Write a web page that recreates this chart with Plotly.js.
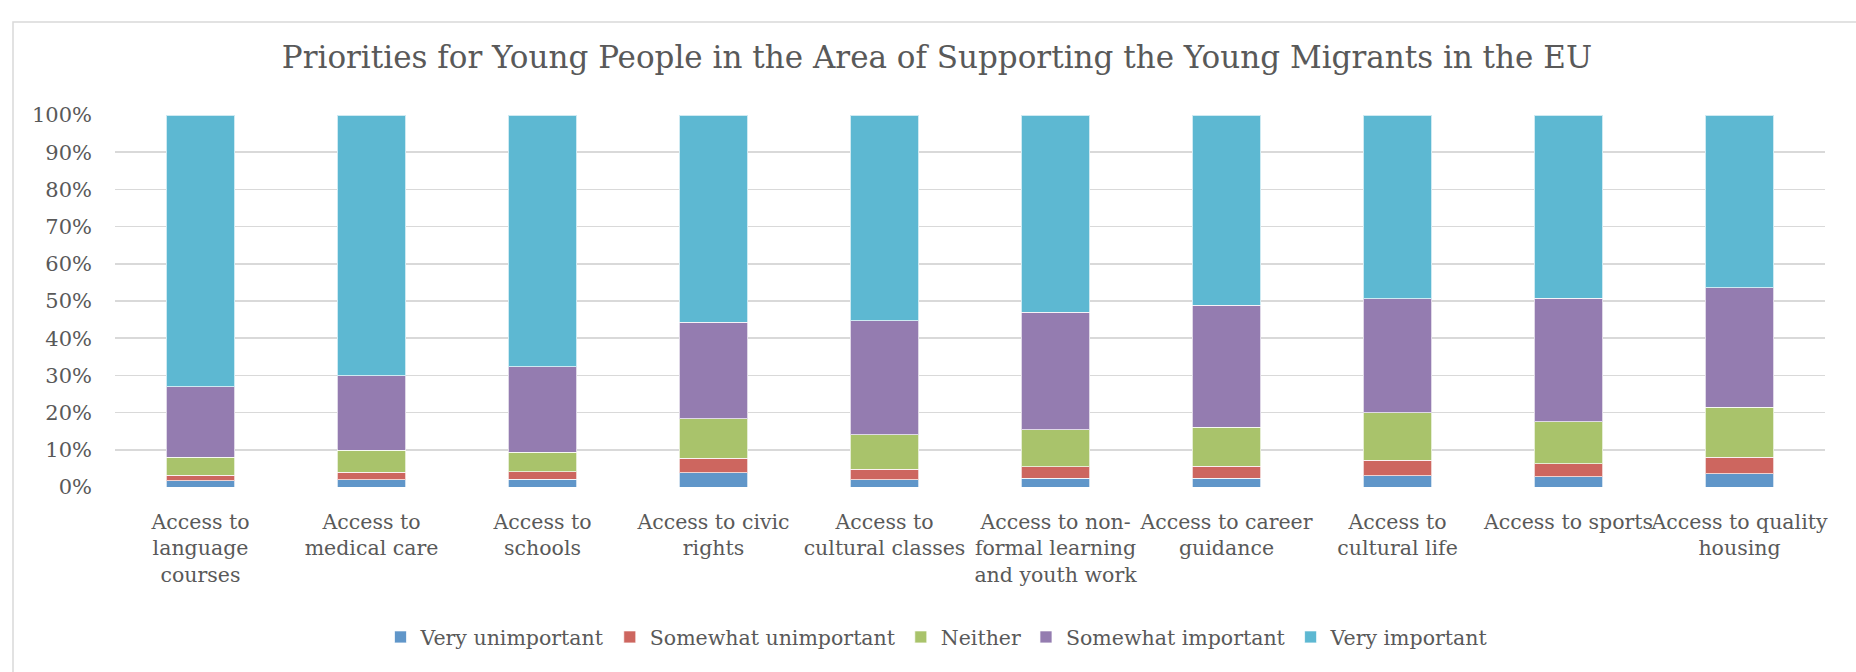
<!DOCTYPE html>
<html>
<head>
<meta charset="utf-8">
<script src="https://cdn.plot.ly/plotly-3.0.1.min.js"></script>
<style>
  html, body { margin: 0; padding: 0; background: #ffffff; }
  #chart { width: 1856px; height: 672px; }
</style>
</head>
<body>
<div id="chart"></div>
<script>
// Categories (tick labels, with line breaks as in the reference)
const categories = [
  "Access to<br>language<br>courses",
  "Access to<br>medical care",
  "Access to<br>schools",
  "Access to civic<br>rights",
  "Access to<br>cultural classes",
  "Access to non-<br>formal learning<br>and youth work",
  "Access to career<br>guidance",
  "Access to<br>cultural life",
  "Access to sports",
  "Access to quality<br>housing"
];

// Series values (percent of respondents, stacked to 100%)
const veryUnimportant     = [1.7, 2.0, 2.1, 3.8, 1.9, 2.4, 2.4, 3.0, 2.8, 3.6];
const somewhatUnimportant = [1.5, 1.9, 2.0, 3.9, 2.9, 3.0, 3.2, 4.2, 3.5, 4.4];
const neither             = [4.8, 6.0, 5.3, 10.6, 9.3, 10.0, 10.5, 12.7, 11.2, 13.4];
const somewhatImportant   = [18.9, 20.0, 22.9, 26.0, 30.6, 31.6, 32.7, 30.7, 33.3, 32.1];
const veryImportant       = [73.1, 70.1, 67.7, 55.7, 55.3, 53.0, 51.2, 49.4, 49.2, 46.5];

const seriesNames  = ["Very unimportant", "Somewhat unimportant", "Neither", "Somewhat important", "Very important"];
const seriesValues = [veryUnimportant, somewhatUnimportant, neither, somewhatImportant, veryImportant];
const seriesColors = ["#6096C9", "#CD665F", "#A9C36B", "#947CB0", "#5DB8D2"];

const yTickVals = [0, 10, 20, 30, 40, 50, 60, 70, 80, 90, 100];
const yTickText = ["0%", "10%", "20%", "30%", "40%", "50%", "60%", "70%", "80%", "90%", "100%"];

const fontFamily = "'DejaVu Serif', 'Liberation Serif', serif";
const textColor = "#595959";

const traces = seriesNames.map((name, i) => ({
  type: "bar",
  name: name,
  x: categories,
  y: seriesValues[i],
  marker: { color: seriesColors[i], line: { color: "rgba(255,255,255,0.7)", width: 1 } },
  hoverinfo: "x+y+name"
}));

const layout = {
  width: 1856,
  height: 672,
  paper_bgcolor: "#ffffff",
  plot_bgcolor: "#ffffff",
  barmode: "stack",
  bargap: 0.6,
  margin: { l: 115, r: 31, t: 115, b: 184.5, pad: 0 },
  title: {
    text: "Priorities for Young People in the Area of Supporting the Young Migrants in the EU",
    font: { family: fontFamily, size: 31, color: textColor },
    x: 0.5048, xref: "container", xanchor: "center",
    y: 0.915, yref: "container", yanchor: "middle"
  },
  xaxis: {
    type: "category",
    showgrid: false,
    showline: false,
    zeroline: false,
    ticks: "",
    ticklabelstandoff: 20,
    tickfont: { family: fontFamily, size: 20.5, color: textColor },
    tickangle: 0,
    automargin: false
  },
  yaxis: {
    range: [0, 100],
    tickvals: yTickVals,
    ticktext: yTickText,
    showgrid: true,
    gridcolor: "#d9d9d9",
    gridwidth: 1.5,
    zeroline: false,
    showline: false,
    ticks: "",
    ticklabelstandoff: 22,
    tickfont: { family: fontFamily, size: 21, color: textColor },
    automargin: false,
    fixedrange: true
  },
  legend: {
    orientation: "h",
    x: 0.4807, xanchor: "center",
    y: -0.4035, yanchor: "middle",
    font: { family: fontFamily, size: 20.5, color: textColor },
    itemwidth: 30,
    traceorder: "normal",
    bgcolor: "rgba(0,0,0,0)"
  },
  shapes: [{
    type: "rect", xref: "paper", yref: "paper",
    x0: -0.05965, x1: 1.02164, y0: -0.5436, y1: 1.2497,
    line: { color: "#d9d9d9", width: 1.5 },
    fillcolor: "rgba(0,0,0,0)",
    layer: "below"
  }],
  showlegend: true
};

Plotly.newPlot("chart", traces, layout, { displayModeBar: false, staticPlot: true });
</script>
</body>
</html>
